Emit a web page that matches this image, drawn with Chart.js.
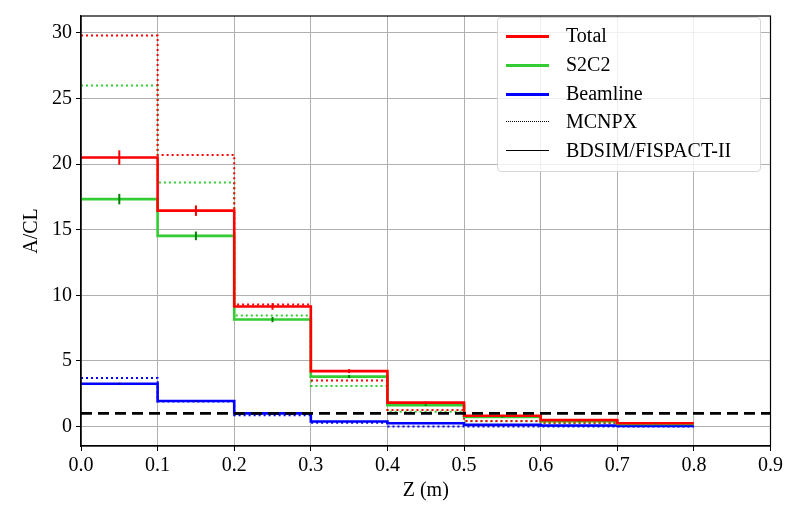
<!DOCTYPE html>
<html>
<head>
<meta charset="utf-8">
<script src="https://cdn.jsdelivr.net/npm/chart.js@4"></script>
<style>
  body { margin: 0; background: #fff; }
  #wrap { position: relative; width: 786px; height: 505px; }
  #legend {
    position: absolute; left: 497px; top: 17px; width: 262px; height: 153px;
    border: 1px solid #d6d6d6; border-radius: 4px; background: rgba(255,255,255,0.8);
    font-family: "Liberation Serif", serif; font-size: 20px; color: #000;
  }
  .row { position: absolute; left: 0; height: 28px; width: 100%; }
  .row .sample { position: absolute; left: 8px; top: 14px; width: 43px; }
  .row .lbl { position: absolute; left: 68px; top: 2px; line-height: 24px; }
</style>
</head>
<body>
<div id="wrap">
  <canvas id="chart" width="786" height="505"></canvas>
  <div id="legend"></div>
</div>
<script>
// bin edges (m) and values per bin
const edges = [0.0, 0.1, 0.2, 0.3, 0.4, 0.5, 0.6, 0.7, 0.8];
const centers = [0.05, 0.15, 0.25, 0.35, 0.45, 0.55, 0.65, 0.75];

const totalVals = [20.5, 16.45, 9.15, 4.22, 1.82, 0.82, 0.48, 0.25];
const s2c2Vals = [17.33, 14.53, 8.15, 3.8, 1.62, 0.72, 0.4, 0.2];
const beamVals = [3.25, 1.94, 1.0, 0.38, 0.25, 0.13, 0.07, 0.03];

const totalErr = [0.55, 0.4, 0.25, 0.15, 0.08, 0.05, 0.03, 0.02];
const s2c2Err = [0.4, 0.33, 0.2, 0.12, 0.06, 0.04, 0.02, 0.02];
const beamErr = [0.08, 0.05, 0.03, 0.02, 0.01, 0.01, 0.01, 0.01];

const mcnpxTotal = [29.8, 20.7, 9.3, 3.5, 1.25, 0.42, 0.28, 0.15];
const mcnpxS2C2 = [26.0, 18.6, 8.45, 3.09, 1.12, 0.4, 0.26, 0.13];
const mcnpxBeam = [3.7, 1.9, 0.85, 0.28, 0.0, 0.0, 0.0, 0.0];

const limitLine = 1.0;

const xTicks = [0, 0.1, 0.2, 0.3, 0.4, 0.5, 0.6, 0.7, 0.8, 0.9];
const yTicks = [0, 5, 10, 15, 20, 25, 30];

const RED = '#ff0000', GREEN = '#33cc33', BLUE = '#0000ff';

function steps(vals) {
  return edges.map((e, i) => ({ x: e, y: vals[Math.min(i, vals.length - 1)] }));
}

function stepSet(vals, color, dotted, order) {
  return {
    data: steps(vals),
    borderColor: color,
    borderWidth: dotted ? 2 : 2.6,
    borderDash: dotted ? [2, 3] : [],
    stepped: 'before',
    pointRadius: 0,
    fill: false,
    order: order
  };
}

const errSeries = [
  { vals: totalVals, err: totalErr, color: '#ee0000' },
  { vals: s2c2Vals, err: s2c2Err, color: '#008000' },
  { vals: beamVals, err: beamErr, color: '#0000aa' }
];

const errorBars = {
  id: 'errorBars',
  afterDatasetsDraw(chart) {
    const ctx = chart.ctx, xs = chart.scales.x, ys = chart.scales.y;
    ctx.save();
    ctx.lineWidth = 2;
    errSeries.forEach(s => {
      ctx.strokeStyle = s.color;
      centers.forEach((c, i) => {
        const px = xs.getPixelForValue(c);
        ctx.beginPath();
        ctx.moveTo(px, ys.getPixelForValue(s.vals[i] - s.err[i]));
        ctx.lineTo(px, ys.getPixelForValue(s.vals[i] + s.err[i]));
        ctx.stroke();
      });
    });
    ctx.restore();
  }
};

const frame = {
  id: 'frame',
  afterDraw(chart) {
    const a = chart.chartArea, ctx = chart.ctx;
    ctx.save();
    ctx.strokeStyle = '#000';
    ctx.lineWidth = 1.2;
    ctx.strokeRect(a.left, a.top, a.right - a.left, a.bottom - a.top);
    ctx.restore();
  }
};

const font = { family: '"Liberation Serif", serif', size: 20 };

new Chart(document.getElementById('chart'), {
  type: 'line',
  data: {
    datasets: [
      { data: [{ x: 0, y: limitLine }, { x: 0.9, y: limitLine }], borderColor: '#000', borderWidth: 2.6,
        borderDash: [11, 6], pointRadius: 0, fill: false, order: 0 },
      stepSet(totalVals, RED, false, 1),
      stepSet(s2c2Vals, GREEN, false, 2),
      stepSet(beamVals, BLUE, false, 3),
      stepSet(mcnpxTotal, RED, true, 4),
      stepSet(mcnpxS2C2, GREEN, true, 5),
      stepSet(mcnpxBeam, BLUE, true, 6)
    ]
  },
  options: {
    responsive: false,
    animation: false,
    layout: { padding: { left: 0, right: 15, top: 7, bottom: 0 } },
    plugins: { legend: { display: false }, tooltip: { enabled: false } },
    scales: {
      x: {
        type: 'linear', min: 0, max: 0.9,
        afterBuildTicks: s => { s.ticks = xTicks.map(v => ({ value: v })); },
        afterFit: s => { s.height = 59; },
        ticks: { color: '#000', font: font, padding: 3, maxRotation: 0, callback: v => v.toFixed(1) },
        grid: { color: '#b0b0b0', lineWidth: 1, tickLength: 5, tickColor: '#000' },
        border: { display: true, color: '#000', width: 1.2 },
        title: { display: true, text: 'Z (m)', color: '#000', font: font, padding: { top: 0, bottom: 2 } }
      },
      y: {
        type: 'linear', min: -1.49, max: 31.29,
        afterBuildTicks: s => { s.ticks = yTicks.map(v => ({ value: v })); },
        afterFit: s => { s.width = 81; },
        ticks: { color: '#000', font: font, padding: 4 },
        grid: { color: '#b0b0b0', lineWidth: 1, tickLength: 5, tickColor: '#000' },
        border: { display: true, color: '#000', width: 1.2 },
        title: { display: true, text: 'A/CL', color: '#000', font: font, padding: { top: 20, bottom: 0 } }
      }
    }
  },
  plugins: [errorBars, frame]
});

// legend inside the plot, top right
const legendItems = [
  { label: 'Total', style: '3px solid ' + RED },
  { label: 'S2C2', style: '3px solid ' + GREEN },
  { label: 'Beamline', style: '3px solid ' + BLUE },
  { label: 'MCNPX', style: '1px dotted #000' },
  { label: 'BDSIM/FISPACT-II', style: '1px solid #000' }
];
const leg = document.getElementById('legend');
legendItems.forEach((it, i) => {
  const row = document.createElement('div');
  row.className = 'row';
  row.style.top = (3 + i * 28.8) + 'px';
  const s = document.createElement('div');
  s.className = 'sample';
  s.style.borderTop = it.style;
  const t = document.createElement('span');
  t.className = 'lbl';
  t.textContent = it.label;
  row.appendChild(s);
  row.appendChild(t);
  leg.appendChild(row);
});
</script>
</body>
</html>
